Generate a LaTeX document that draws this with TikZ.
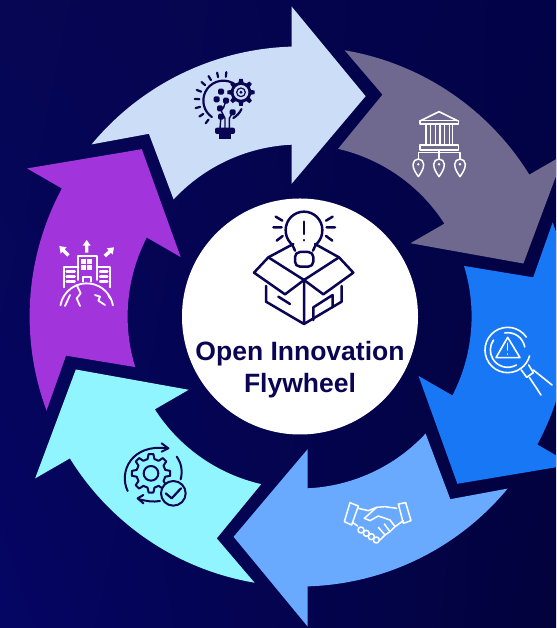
\documentclass[tikz,border=0pt]{standalone}
\usepackage{fontspec}
\usetikzlibrary{shadings}
\setmainfont{Liberation Sans}
\definecolor{cLight}{HTML}{CCDDF8}
\definecolor{cGrey}{HTML}{6F698F}
\definecolor{cBlue}{HTML}{1877F5}
\definecolor{cPale}{HTML}{69AAFF}
\definecolor{cCyan}{HTML}{91F5FF}
\definecolor{cPurple}{HTML}{A234DC}
\definecolor{cInk}{HTML}{0A0552}
\definecolor{bgLL}{RGB}{5,5,100}
\definecolor{bgUL}{RGB}{6,6,84}
\definecolor{bgUR}{RGB}{2,2,72}
\definecolor{bgLR}{RGB}{2,2,60}
\tikzset{
  zoomed/.style 2 args={shift={(#1pt,{(628-#2)*1pt})},x=0.33333pt,y=-0.33333pt},
  ink/.style={draw=cInk,line width=#1,line cap=round,line join=round},
  ink/.default=1.8pt,
  wht/.style={draw=white,line width=#1,line cap=round,line join=round},
  wht/.default=1.6pt,
  hubtext/.style={font=\fontsize{26.5}{30}\selectfont\bfseries,text=cInk,inner sep=0pt},
}
\newcommand{\flyarrow}[2]{%
  \fill[#2,shift={(299.6pt,311.5pt)},rotate=#1]
    (140.4:270) -- (-150.7,182.7) -- (137.1:172)
    arc[start angle=137.1,end angle=92.67,radius=172]
    -- (-8,132.7) -- (66,220.3) -- (-8,310) -- (91.7:270)
    arc[start angle=91.7,end angle=140.4,radius=270] -- cycle;}
% #1 #2 centre, #3 outer r, #4 inner r, #5 teeth, #6 style
\newcommand{\gearshape}[6]{%
  \pgfmathsetmacro{\gwa}{360/#5*0.3}\pgfmathsetmacro{\gwb}{360/#5*0.16}%
  \path[shift={(#1,#2)},#6] ({-\gwa}:#4)
    \foreach \i [evaluate=\i as \ga using \i*360/#5] in {1,...,#5}{
      -- ({\ga-360/#5-\gwa}:#4) -- ({\ga-360/#5-\gwb}:#3) -- ({\ga-360/#5+\gwb}:#3) -- ({\ga-360/#5+\gwa}:#4)
    } -- cycle;}
\newcommand{\pinshape}[2]{%
  \path[wht=1.5pt,shift={(#1,#2)}] (0,37) .. controls (-8,25) and (-16,14) .. (-16,0)
    arc[start angle=180,end angle=360,radius=16]
    .. controls (16,14) and (8,25) .. cycle;
  \fill[white,shift={(#1,#2)}] (0,0) circle[radius=4];}
\begin{document}
\begin{tikzpicture}[x=1pt,y=1pt]
\useasboundingbox (0,0) rectangle (556,628);
\begin{scope}
\clip (0,0) rectangle (556,628);
\shade[lower left=bgLL,upper left=bgUL,upper right=bgUR,lower right=bgLR] (0,0) rectangle (556,628);
\flyarrow{0}{cLight}
\flyarrow{-60}{cGrey}
\flyarrow{-120}{cBlue}
\flyarrow{-180}{cPale}
\flyarrow{-240}{cCyan}
\flyarrow{-300}{cPurple}
\end{scope}
\node[circle,fill=white,minimum size=236pt,inner sep=0pt] (hub) at (300,311.5) {};
\node[hubtext] (titleA) at (300,274.5) {Open Innovation};
\node[hubtext] (titleB) at (300,242.5) {Flywheel};

% centre icon: bulb and box
\begin{scope}[zoomed={230}{200}]
\path[ink=2.5pt] (195,152) .. controls (190,130) and (167,125) .. (167,90)
  arc[start angle=180,end angle=360,radius=55]
  .. controls (277,125) and (254,130) .. (249,152);
\path[ink=2.5pt,rounded corners=5pt] (195,156) -- (250,156) -- (250,200) -- (195,200) -- cycle;
\path[ink=2.5pt] (222,65) -- (222,102) (222,120) -- (222,121);
\path[ink=2.5pt] (130,82)--(155,82) (137,50)--(157,62) (140,122)--(158,108)
  (290,82)--(315,82) (288,62)--(308,50) (288,108)--(307,122);
\path[ink=2.5pt] (115,172) -- (72,218) -- (165,283) -- (222,240) -- cycle;
\path[ink=2.5pt] (327,172) -- (370,218) -- (280,283) -- (222,240) -- cycle;
\path[ink=2.5pt] (115,172) -- (190,132) (327,172) -- (255,132);
\path[ink=2.5pt] (108,258) -- (108,305) -- (222,372) -- (335,305) -- (335,258) (222,240) -- (222,372);
\path[ink=2.5pt] (145,290) -- (180,312);
\path[ink=2.5pt] (250,360) -- (250,322) -- (308,285) -- (308,322);
\end{scope}

% icon 1: bulb with gear
\begin{scope}[zoomed={170}{60}]
\path[ink=2.2pt] (160,122) ++(-65:60) arc[start angle=-65,end angle=-235,radius=60];
\path[ink=2.2pt] (160,122) ++(25:60) arc[start angle=25,end angle=60,radius=60];
\foreach \a in {128,146.5,165,183.5,202,220.5,239,257.5,276}
  \path[ink=2.2pt] (160,122) ++(\a:72) -- ++(\a:14);
\gearshape{213}{97}{41}{31}{8}{fill=cInk}
\fill[cLight] (213,97) circle[radius=22];
\path[ink=1.2pt] (213,97) circle[radius=13];
\fill[cInk] (213,97) circle[radius=5];
\foreach \p in {(153,95),(140,118),(168,122),(150,145),(188,157),(153,170)}
  \fill[cInk,rounded corners=1.5pt] \p ++(-9,-9) rectangle ++(18,18);
\path[ink=1.4pt] (150,145) -- (165,175) -- (165,205) (188,157) -- (178,175) -- (178,205) (153,170) -- (150,205);
\path[ink=1.4pt] (168,122) -- (160,145);
\fill[cInk,rounded corners=2pt] (135,203) rectangle (195,222);
\fill[cInk] (147,222) rectangle (182,236);
\end{scope}

% icon 2: bank with pins
\begin{scope}[zoomed={400}{100}]
\path[wht] (62,62) -- (117,35) -- (172,62);
\path[wht] (60,62) rectangle (175,72);
\foreach \x in {78,92,106,120,134,148,158}
  \path[wht=1.5pt] (\x,74) -- (\x,132);
\path[wht] (60,135) rectangle (175,150);
\path[wht=1.4pt] (117,150) -- (117,175) (55,175) -- (55,158) -- (180,158) -- (180,175);
\pinshape{55}{193}
\pinshape{117}{193}
\pinshape{180}{193}
\end{scope}

% icon 3: magnifier with warning sign
\begin{scope}[zoomed={476}{320}]
\path[wht=1.6pt] (95,90) ++(-35:68) arc[start angle=-35,end angle=-345,radius=68];
\path[wht=1.6pt] (95,90) ++(-10:52) arc[start angle=-10,end angle=-100,radius=52];
\path[wht=1.6pt] (95,90) ++(60:52) arc[start angle=60,end angle=215,radius=52];
\path[wht=1.6pt] (95,52) -- (60,113) -- (132,113) -- cycle;
\path[wht=1.6pt] (95,70) -- (95,90) (95,102) -- (95,103);
\path[wht=1.6pt] (158,135) -- (172,158) -- (152,172) -- (136,150);
\path[wht=1.6pt] (172,150) -- (228,195) (160,172) -- (195,225);
\end{scope}

% icon 4: handshake
\begin{scope}[zoomed={335}{490}]
\path[wht=1.5pt] (45,38) -- (70,48) -- (50,105) -- (28,95) -- cycle;
\path[wht=1.5pt] (190,42) -- (212,38) -- (228,92) -- (205,100) -- cycle;
\path[wht=1.5pt] (70,55) -- (100,62) -- (125,52) -- (150,50) -- (185,55);
\path[wht=1.5pt] (125,52) -- (88,85) -- (105,92) -- (130,78) -- (165,90) -- (180,110);
\path[wht=1.5pt] (205,92) -- (180,110) -- (165,125) -- (150,135) -- (135,150);
\path[wht=1.5pt] (52,97) -- (68,108);
\foreach \c in {(78,120),(94,130),(109,140),(124,150)}
  \path[wht=1.5pt] \c circle[radius=9];
\path[wht=1.5pt] (130,112) -- (150,135) (148,102) -- (165,125);
\end{scope}

% icon 5: gear with check
\begin{scope}[zoomed={115}{435}]
\gearshape{108}{115}{58}{44}{8}{ink=2pt}
\path[ink=2pt] (108,115) circle[radius=22];
\path[ink=2pt] (38,168) .. controls (10,110) and (50,25) .. (158,40);
\path[ink=2pt] (140,25) -- (160,40) -- (140,50);
\path[ink=2pt] (185,65) .. controls (200,85) and (203,110) .. (197,133);
\path[ink=2pt] (70,192) .. controls (90,198) and (115,202) .. (135,198);
\path[ink=2pt] (85,180) -- (68,190) -- (85,205);
\path[ink=2pt,fill=cCyan] (175,175) circle[radius=37];
\path[ink=2.2pt] (152,175) -- (170,190) -- (198,160);
\end{scope}

% icon 6: building and globe
\begin{scope}[zoomed={50}{230}]
\fill[white] (110,30) -- (122,47) -- (115,47) -- (115,68) -- (105,68) -- (105,47) -- (98,47) -- cycle;
\fill[white] (28,48) -- (50,52) -- (44,58) -- (59,73) -- (52,80) -- (37,65) -- (32,71) -- cycle;
\fill[white] (192,52) -- (170,55) -- (176,61) -- (161,74) -- (168,82) -- (183,68) -- (188,74) -- cycle;
\path[wht=1.8pt] (85,150) -- (85,78) -- (140,78) -- (140,150);
\foreach \x in {93,112} \foreach \y in {86,106}
  \fill[white] (\x,\y) rectangle ++(15,15);
\path[wht=1.8pt] (100,155) -- (100,140) -- (122,140) -- (122,155);
\path[wht=1.8pt] (85,112) -- (42,112) -- (42,172) (140,112) -- (180,112) -- (180,172);
\foreach \y in {125,140,155} {
  \path[wht=2.4pt] (50,\y) -- (74,\y);
  \path[wht=2.4pt] (150,\y) -- (172,\y);
}
\path[wht=1.8pt] (110,240) ++(190:80) arc[start angle=190,end angle=350,radius=80];
\path[wht=1.8pt] (80,165) -- (92,190) -- (80,205) -- (90,228) (60,195) -- (45,228)
  (135,195) -- (150,200) -- (145,212) -- (165,225) (175,195) -- (180,205);
\end{scope}
\end{tikzpicture}
\end{document}
